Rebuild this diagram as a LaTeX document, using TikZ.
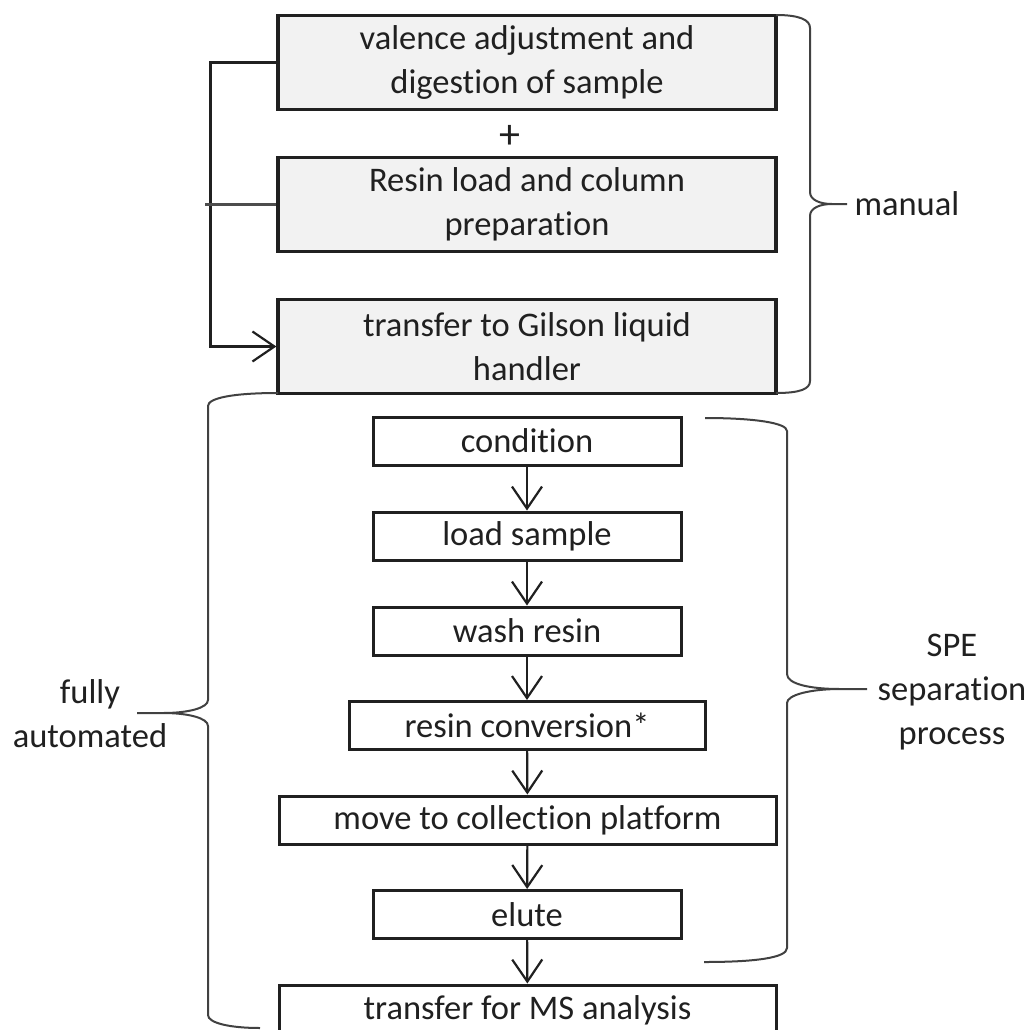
\documentclass[tikz,border=0pt]{standalone}
\usepackage{fontspec}
\setmainfont{Carlito}[Ligatures=NoCommon]
\usetikzlibrary{arrows.meta}
\definecolor{boxgray}{HTML}{F2F2F2}
\definecolor{inkgray}{HTML}{202020}
\tikzset{
  manbox/.style={draw=inkgray,line width=3.2pt,fill=boxgray,inner sep=0pt,
                 minimum width=498pt,minimum height=94pt,align=center},
  autobox/.style={draw=inkgray,line width=3pt,inner sep=0pt,minimum height=48pt},
  flow/.style={draw=inkgray,line width=2.2pt,-{Straight Barb[length=22pt,width=30pt,line width=2.2pt]}},
  brace/.style={draw=inkgray!85,line width=2pt},
  lbl/.style={align=center,text=inkgray}
}
\begin{document}
\begin{tikzpicture}[x=1pt,y=-1pt,font=\fontsize{34.5}{44}\selectfont,text=inkgray]
\useasboundingbox (0,0) rectangle (1031,1029);
% manual steps
\node[manbox] (valence)   at (527,62.5)  {valence adjustment and\\digestion of sample};
\node[lbl,font=\fontsize{42}{44}\selectfont] (plus) at (510,137) {+};
\node[manbox] (resinload) at (527,204.5) {Resin load and column\\preparation};
\node[manbox] (gilson)    at (527,346.5) {transfer to Gilson liquid\\handler};
% automated steps
\node[autobox,minimum width=308pt] (condition)  at (527,441)    {condition};
\node[autobox,minimum width=308pt] (loadsample) at (527,536)    {load sample};
\node[autobox,minimum width=308pt] (washresin)  at (527,631)    {wash resin};
\node[autobox,minimum width=356pt] (conversion) at (527,725.5)  {resin conversion*};
\node[autobox,minimum width=497pt] (movecoll)   at (527.5,820)  {move to collection platform};
\node[autobox,minimum width=308pt] (elute)      at (527,914.5)  {elute};
\node[autobox,minimum width=497pt,minimum height=50pt] (msanalysis) at (527.5,1010) {transfer for MS analysis};
\draw[flow] (condition) -- (loadsample);
\draw[flow] (loadsample) -- (washresin);
\draw[flow] (washresin) -- (conversion);
\draw[flow] (conversion) -- (movecoll);
\draw[flow] (movecoll) -- (elute);
\draw[flow] (elute) -- (msanalysis);
\draw[flow] (valence.west) -- ++(-66,0) |- (gilson.west);
\draw[draw=inkgray!80,line width=2.2pt] (resinload.west) -- ++(-71,0);
% braces
\draw[brace] (776,15) .. controls +(24,0) and +(0,-8) .. (810,28) -- (810,192)
             .. controls +(0,8) and +(-12,0) .. (832,204) -- (847,204)
             (832,204) .. controls +(-12,0) and +(0,-8) .. (810,216) -- (810,381)
             .. controls +(0,8) and +(24,0) .. (776,393);
\draw[brace] (278,393) .. controls +(-45,0) and +(0,-8) .. (208,406) -- (208,700)
             .. controls +(0,8) and +(25,0) .. (163,713) -- (137,713)
             (163,713) .. controls +(25,0) and +(0,-8) .. (208,726) -- (208,1015)
             .. controls +(0,8) and +(-30,0) .. (260,1028);
\draw[brace] (705,418) .. controls +(50,0) and +(0,-8) .. (787,431) -- (787,674)
             .. controls +(0,10) and +(-30,0) .. (840,689) -- (867,689)
             (840,689) .. controls +(-30,0) and +(0,-8) .. (787,703) -- (787,948)
             .. controls +(0,10) and +(50,0) .. (704,962);
\node[lbl,anchor=west] (manual) at (851,204) {manual};
\node[lbl] (spe)  at (952,692) {SPE\\separation\\process};
\node[lbl] (auto) at (90,714)  {fully\\automated};
\end{tikzpicture}
\end{document}
